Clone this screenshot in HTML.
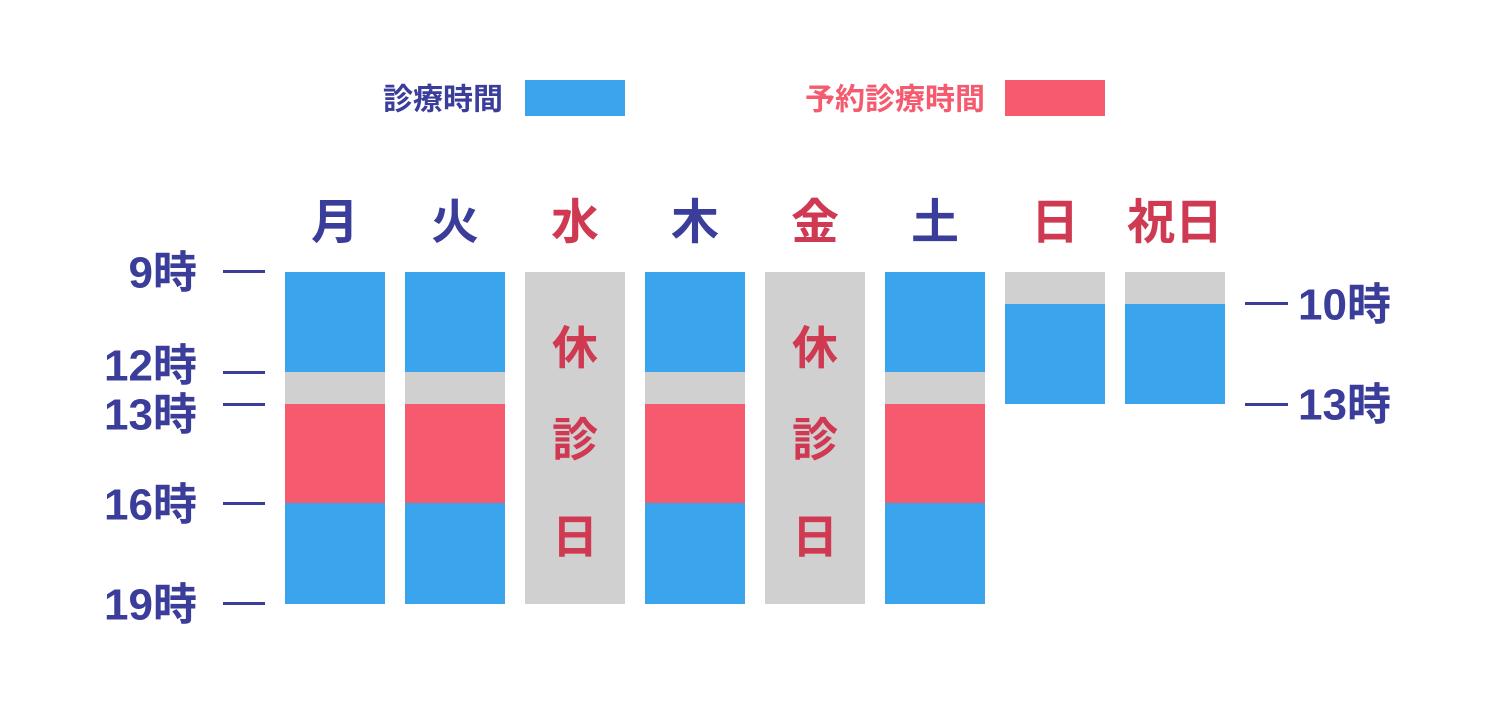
<!DOCTYPE html>
<html><head><meta charset="utf-8"><style>
html,body{margin:0;padding:0;background:#fff;}
svg text{font-family:"Liberation Sans","Noto Sans CJK JP",sans-serif;font-weight:bold;dominant-baseline:central;}
</style></head><body>
<svg width="1500" height="720" xmlns="http://www.w3.org/2000/svg">
<text x="503" y="100" font-size="30" fill="#3b3d9a" text-anchor="end">診療時間</text>
<rect x="525" y="80" width="100" height="36" fill="#3aa4ec"/>
<text x="985" y="100" font-size="30" fill="#f55a6e" text-anchor="end">予約診療時間</text>
<rect x="1005" y="80" width="100" height="36" fill="#f55a6e"/>
<g font-size="48" text-anchor="middle">
<text x="335" y="223" fill="#3b3d9a">月</text>
<text x="455" y="223" fill="#3b3d9a">火</text>
<text x="575" y="223" fill="#cf3a52">水</text>
<text x="695" y="223" fill="#3b3d9a">木</text>
<text x="815" y="223" fill="#cf3a52">金</text>
<text x="935" y="223" fill="#3b3d9a">土</text>
<text x="1055" y="223" fill="#cf3a52">日</text>
<text x="1175" y="223" fill="#cf3a52">祝日</text>
</g>
<g>
<rect x="285" y="272" width="100" height="100" fill="#3aa4ec"/><rect x="285" y="372" width="100" height="32" fill="#d0d0d0"/><rect x="285" y="404" width="100" height="99" fill="#f55a6e"/><rect x="285" y="503" width="100" height="101" fill="#3aa4ec"/>
<rect x="405" y="272" width="100" height="100" fill="#3aa4ec"/><rect x="405" y="372" width="100" height="32" fill="#d0d0d0"/><rect x="405" y="404" width="100" height="99" fill="#f55a6e"/><rect x="405" y="503" width="100" height="101" fill="#3aa4ec"/>
<rect x="645" y="272" width="100" height="100" fill="#3aa4ec"/><rect x="645" y="372" width="100" height="32" fill="#d0d0d0"/><rect x="645" y="404" width="100" height="99" fill="#f55a6e"/><rect x="645" y="503" width="100" height="101" fill="#3aa4ec"/>
<rect x="885" y="272" width="100" height="100" fill="#3aa4ec"/><rect x="885" y="372" width="100" height="32" fill="#d0d0d0"/><rect x="885" y="404" width="100" height="99" fill="#f55a6e"/><rect x="885" y="503" width="100" height="101" fill="#3aa4ec"/>
<rect x="525" y="272" width="100" height="332" fill="#d0d0d0"/>
<rect x="765" y="272" width="100" height="332" fill="#d0d0d0"/>
<rect x="1005" y="272" width="100" height="32" fill="#d0d0d0"/><rect x="1005" y="304" width="100" height="100" fill="#3aa4ec"/>
<rect x="1125" y="272" width="100" height="32" fill="#d0d0d0"/><rect x="1125" y="304" width="100" height="100" fill="#3aa4ec"/>
</g>
<g font-size="46" fill="#cf3a52" text-anchor="middle">
<text x="575" y="348">休</text><text x="575" y="440">診</text><text x="575" y="537">日</text>
<text x="815" y="348">休</text><text x="815" y="440">診</text><text x="815" y="537">日</text>
</g>
<g fill="#3b3d9a">
<rect x="223" y="270" width="42" height="3"/>
<rect x="223" y="371" width="42" height="3"/>
<rect x="223" y="403" width="42" height="3"/>
<rect x="223" y="502" width="42" height="3"/>
<rect x="223" y="602" width="42" height="3"/>
<rect x="1245" y="302" width="43" height="3"/>
<rect x="1245" y="403" width="43" height="3"/>
</g>
<g font-size="44" fill="#3b3d9a">
<text x="197" y="273" text-anchor="end">9時</text>
<text x="197" y="366" text-anchor="end">12時</text>
<text x="197" y="415" text-anchor="end">13時</text>
<text x="197" y="505" text-anchor="end">16時</text>
<text x="197" y="605" text-anchor="end">19時</text>
<text x="1298" y="305">10時</text>
<text x="1298" y="405">13時</text>
</g>
</svg>
</body></html>
